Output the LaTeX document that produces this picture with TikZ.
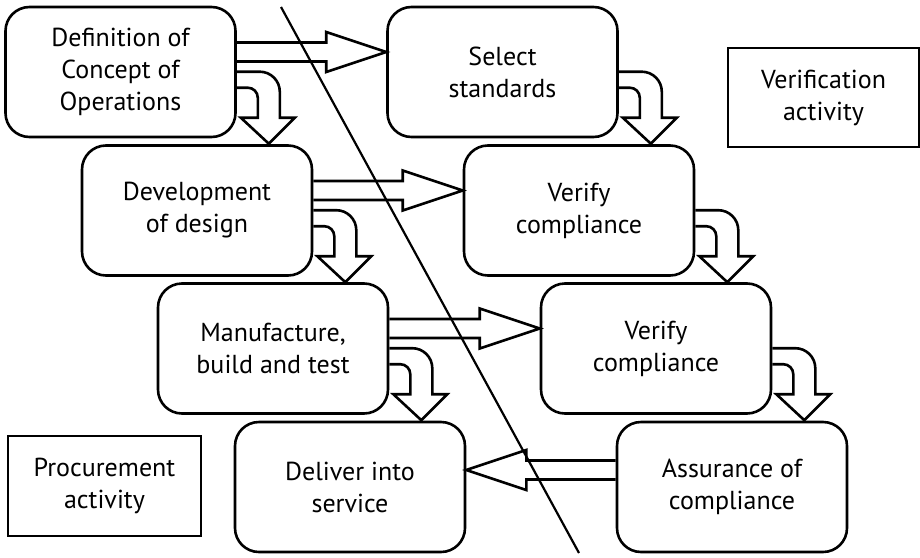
\documentclass[tikz,border=0pt]{standalone}
\usepackage{fontspec}
\setmainfont{PT Sans}
\usetikzlibrary{calc}

\tikzset{
  stage/.style={draw, line width=1.3pt, rounded corners=12pt,
    minimum width=115pt, minimum height=65pt, inner sep=0pt,
    align=center, font=\fontsize{13}{16}\selectfont},
  legendbox/.style={draw, line width=1.3pt, inner sep=0pt,
    align=center, font=\fontsize{13}{16}\selectfont},
  arrowline/.style={draw, line width=1.3pt, line join=miter},
  cutline/.style={draw, line width=1.1pt},
}

% straight hollow arrow: #1 start, #2 tip, #3 signed head length
\newcommand\flowarrow[3]{%
  \draw[arrowline] let \p1=(#1), \p2=(#2) in
    (\x1,{\y1+4.75pt}) -- ({\x2-(#3)},{\y1+4.75pt}) -- ({\x2-(#3)},{\y1+10pt})
    -- (\x2,\y2)
    -- ({\x2-(#3)},{\y1-10pt}) -- ({\x2-(#3)},{\y1-4.75pt}) -- (\x1,{\y1-4.75pt});}

% bent hollow arrow leaving the right side of a stage and turning down
\newcommand\bentarrow[1]{%
  \begin{scope}[shift={(#1.north east)}]
    \draw[arrowline] (0,66) -- (23,66) .. controls (34,66) and (43,75) .. (43,86)
      -- (43,112) -- (58,112) -- (32,138) -- (4,112) -- (21,112) -- (21,92)
      .. controls (21,86.5) and (16.5,82) .. (11,82) -- (0,82);
  \end{scope}}

\begin{document}
\begin{tikzpicture}[x=0.5pt,y=-0.5pt]
\useasboundingbox (0,0) rectangle (920,557);

% procurement stages (left) and verification stages (right)
\node[stage] (def)  at (120.5,72)  {Definition of\\Concept of\\Operations};
\node[stage] (sel)  at (502.5,72)  {Select\\standards};
\node[stage] (dev)  at (197,210.5) {Development\\of design};
\node[stage] (ver1) at (579,210.5) {Verify\\compliance};
\node[stage] (man)  at (273,348.5) {Manufacture,\\build and test};
\node[stage] (ver2) at (656,348.5) {Verify\\compliance};
\node[stage] (del)  at (350,487)   {Deliver into\\service};
\node[stage] (ass)  at (732,487)   {Assurance of\\compliance};

% legend boxes
\node[legendbox, minimum width=95.5pt, minimum height=49.5pt] (verif) at (823.5,97.5) {Verification\\activity};
\node[legendbox, minimum width=96.5pt, minimum height=50pt] (proc) at (104.5,486) {Procurement\\activity};

% horizontal hand-over arrows
\coordinate (h1s) at ($(def.east)+(0,-20)$);  \coordinate (h1t) at ($(sel.west)+(0,-20)$);
\coordinate (h2s) at ($(dev.east)+(0,-20)$);  \coordinate (h2t) at ($(ver1.west)+(0,-20)$);
\coordinate (h3s) at ($(man.east)+(0,-20)$);  \coordinate (h3t) at ($(ver2.west)+(0,-20)$);
\coordinate (h4s) at ($(ass.west)+(0,-17)$);  \coordinate (h4t) at ($(del.east)+(0,-17)$);
\flowarrow{h1s}{h1t}{30pt}
\flowarrow{h2s}{h2t}{30pt}
\flowarrow{h3s}{h3t}{30pt}
\flowarrow{h4s}{h4t}{-30pt}

% bent arrows down to the next stage
\bentarrow{def}
\bentarrow{dev}
\bentarrow{man}
\bentarrow{sel}
\bentarrow{ver1}
\bentarrow{ver2}

% dividing line
\coordinate (cutA) at (281,7);
\coordinate (cutB) at (579,553);
\draw[cutline] (cutA) -- (cutB);
\end{tikzpicture}
\end{document}
